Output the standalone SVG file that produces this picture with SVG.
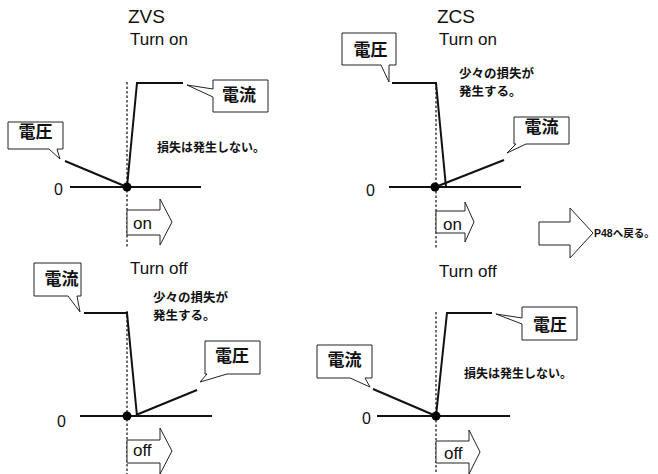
<svg xmlns="http://www.w3.org/2000/svg" width="658" height="474" viewBox="0 0 658 474">
<style>
.bg{fill:#fff}
.wave{fill:none;stroke:#111;stroke-width:2;stroke-linejoin:miter}
.axis{fill:none;stroke:#111;stroke-width:2}
.dash{fill:none;stroke:#222;stroke-width:1.3;stroke-dasharray:2.5 2}
.box{fill:#fff;stroke:#222;stroke-width:1}
.dot{fill:#000}
.title{font-family:"Liberation Sans",Arial,sans-serif;font-size:19px;fill:#111}
.sub{font-family:"Liberation Sans",Arial,sans-serif;font-size:17px;fill:#111}
.zero{font-family:"Liberation Sans",Arial,sans-serif;font-size:16px;fill:#111}
.lab{font-family:"Liberation Sans",Arial,sans-serif;font-size:17px;fill:#111}
.co{font-family:"Noto Sans CJK JP",sans-serif;font-size:17px;font-weight:bold;fill:#111;text-anchor:middle}
.cap{font-family:"Noto Sans CJK JP",sans-serif;font-size:12px;font-weight:bold;fill:#111}
.cap2{font-family:"Noto Sans CJK JP",sans-serif;font-size:12.5px;font-weight:bold;fill:#111}
.p48{font-family:"Liberation Sans","Noto Sans CJK JP",sans-serif;font-size:10.5px;font-weight:bold;fill:#111}
</style>
<rect class="bg" x="0" y="0" width="658" height="474"/>

<g id="connectors">
  <line class="dash" x1="127" y1="82" x2="127" y2="248"/>
  <line class="axis" x1="70" y1="187" x2="201" y2="187"/>
  <polyline class="wave" points="127,187 137,83 183,83"/>
  <line class="wave" x1="65" y1="161" x2="127" y2="187"/>
  <line class="dash" x1="436" y1="83" x2="436" y2="248"/>
  <line class="axis" x1="389" y1="187" x2="521" y2="187"/>
  <polyline class="wave" points="392,83 436,83 446,187"/>
  <line class="wave" x1="438" y1="186" x2="504" y2="160"/>
  <line class="dash" x1="127" y1="311" x2="127" y2="474"/>
  <line class="axis" x1="80" y1="416" x2="212" y2="416"/>
  <polyline class="wave" points="84,313 127,313 137,416"/>
  <line class="wave" x1="136" y1="415" x2="197" y2="390"/>
  <line class="dash" x1="436" y1="312" x2="436" y2="474"/>
  <line class="axis" x1="377" y1="416" x2="510" y2="416"/>
  <polyline class="wave" points="436,416 447,313 492,313"/>
  <line class="wave" x1="373" y1="389" x2="436" y2="416"/>
</g>

<g id="zvs-on">
  <text class="title" x="128" y="23">ZVS</text>
  <text class="sub" x="130" y="45">Turn on</text>
  <text class="zero" x="54" y="195">0</text>
  <circle class="dot" cx="127" cy="187" r="4.5"/>
  <text class="cap" x="157" y="152">損失は発生しない。</text>
</g>
<g id="zvs-on-voltage">
  <path class="box" d="M8,122 H63 V149 H57 L60,159 L49,149 H8 Z"/>
  <text class="co" x="35.5" y="138">電圧</text>
</g>
<g id="zvs-on-current">
  <path class="box" d="M213,80 H268 V112 H213 V97 L187,85 L213,89 Z"/>
  <text class="co" x="239" y="101">電流</text>
</g>
<g id="zvs-on-arrow">
  <path class="box" d="M127,210 H160 V199 L172,222 L160,245 V235 H127 Z"/>
  <text class="lab" x="133" y="229">on</text>
</g>

<g id="zcs-on">
  <text class="title" x="437" y="23">ZCS</text>
  <text class="sub" x="439" y="45">Turn on</text>
  <text class="zero" x="366" y="196">0</text>
  <circle class="dot" cx="435" cy="187" r="4.5"/>
  <text class="cap2" x="459" y="78">少々の損失が</text>
  <text class="cap2" x="459" y="96">発生する。</text>
</g>
<g id="zcs-on-voltage">
  <path class="box" d="M342,33 H396 V65 H389 V82 L381,65 H342 Z"/>
  <text class="co" x="370.5" y="56">電圧</text>
</g>
<g id="zcs-on-current">
  <path class="box" d="M514,117 H569 V144 H526 L507,153 L516,144 H514 Z"/>
  <text class="co" x="541.5" y="133">電流</text>
</g>
<g id="zcs-on-arrow">
  <path class="box" d="M436,211 H465 V202 L474,222 L465,242 V233 H436 Z"/>
  <text class="lab" x="443" y="230">on</text>
</g>

<g id="p48-arrow">
  <path class="box" d="M539,222 H570 V208 L593,233 L570,258 V245 H539 Z"/>
  <text class="p48" x="594" y="237">P48へ戻る。</text>
</g>

<g id="zvs-off">
  <text class="sub" x="130" y="274">Turn off</text>
  <text class="zero" x="57" y="427">0</text>
  <circle class="dot" cx="127" cy="416" r="4.5"/>
  <text class="cap2" x="153" y="302">少々の損失が</text>
  <text class="cap2" x="153" y="320">発生する。</text>
</g>
<g id="zvs-off-current">
  <path class="box" d="M34,263 H81 V296 H77 L80,312 L68,296 H34 Z"/>
  <text class="co" x="61.5" y="285">電流</text>
</g>
<g id="zvs-off-voltage">
  <path class="box" d="M205,341 H260 V374 H227 L200,382 L207,374 H205 Z"/>
  <text class="co" x="232" y="362">電圧</text>
</g>
<g id="zvs-off-arrow">
  <path class="box" d="M127,440 H160 V428 L172,451 L160,474 V463 H127 Z"/>
  <text class="lab" x="133" y="456">off</text>
</g>

<g id="zcs-off">
  <text class="sub" x="439" y="277">Turn off</text>
  <text class="zero" x="362" y="424">0</text>
  <circle class="dot" cx="436" cy="416" r="4.5"/>
  <text class="cap" x="464" y="378">損失は発生しない。</text>
</g>
<g id="zcs-off-voltage">
  <path class="box" d="M522,307 H577 V340 H522 V324 L496,314 L522,318 Z"/>
  <text class="co" x="550" y="331">電圧</text>
</g>
<g id="zcs-off-current">
  <path class="box" d="M317,345 H372 V378 H365 L370,387 L350,378 H317 Z"/>
  <text class="co" x="344.5" y="366">電流</text>
</g>
<g id="zcs-off-arrow">
  <path class="box" d="M436,441 H469 V430 L480,452 L469,474 V463 H436 Z"/>
  <text class="lab" x="444" y="459">off</text>
</g>
</svg>
